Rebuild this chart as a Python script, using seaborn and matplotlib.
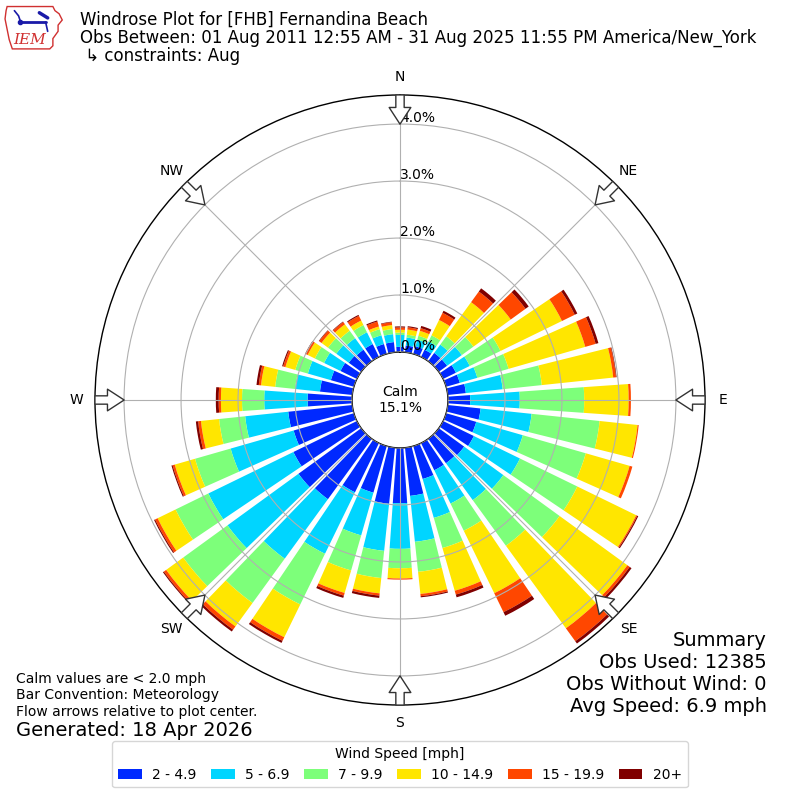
import numpy as np
import matplotlib
matplotlib.use("Agg")
import matplotlib.pyplot as plt
import seaborn as sns
from matplotlib.patches import Patch, Polygon

# ---------------- data (percent of observations) ----------------
directions = list(range(0, 360, 10))
speed_labels = ["2 - 4.9", "5 - 6.9", "7 - 9.9", "10 - 14.9", "15 - 19.9", "20+"]

spd_2_5 = [0.09, 0.12, 0.14, 0.14, 0.18, 0.18, 0.25, 0.25, 0.32, 0.39, 0.58, 0.55,
           0.60, 0.55, 0.53, 0.53, 0.60, 0.85, 0.97, 0.99, 0.85, 0.96, 1.31, 1.36,
           1.24, 1.10, 1.13, 0.78, 0.57, 0.42, 0.32, 0.27, 0.25, 0.25, 0.18, 0.18]
spd_5_7 = [0.21, 0.14, 0.12, 0.16, 0.18, 0.32, 0.27, 0.32, 0.65, 0.87, 0.90, 0.85,
           0.90, 0.85, 0.80, 0.65, 0.71, 0.81, 0.80, 0.83, 0.78, 1.20, 1.29, 1.54,
           1.66, 1.15, 0.76, 0.76, 0.44, 0.42, 0.32, 0.27, 0.25, 0.23, 0.16, 0.14]
spd_7_10 = [0.04, 0.05, 0.07, 0.12, 0.18, 0.25, 0.60, 0.57, 0.69, 1.13, 1.20, 1.15,
            1.12, 1.22, 0.99, 0.53, 0.55, 0.53, 0.34, 0.48, 0.64, 0.99, 0.96, 0.96,
            0.64, 0.65, 0.46, 0.39, 0.35, 0.23, 0.18, 0.18, 0.16, 0.14, 0.11, 0.09]
spd_10_15 = [0.05, 0.09, 0.09, 0.30, 0.74, 0.81, 1.20, 1.40, 1.26, 0.78, 0.67, 0.80,
             1.15, 1.47, 1.79, 1.22, 0.78, 0.39, 0.18, 0.27, 0.41, 0.64, 0.51, 0.37,
             0.35, 0.37, 0.32, 0.37, 0.25, 0.18, 0.14, 0.14, 0.14, 0.09, 0.05, 0.07]
spd_15_20 = [0.04, 0.04, 0.05, 0.14, 0.23, 0.32, 0.25, 0.19, 0.05, 0.04, 0.02, 0.05,
             0.02, 0.05, 0.28, 0.37, 0.07, 0.04, 0.02, 0.04, 0.05, 0.07, 0.07, 0.05,
             0.05, 0.04, 0.05, 0.04, 0.04, 0.04, 0.04, 0.05, 0.05, 0.09, 0.09, 0.05]
spd_20p = [0.02, 0.02, 0.04, 0.04, 0.07, 0.07, 0.05, 0.05, 0.01, 0.00, 0.00, 0.00,
           0.02, 0.04, 0.05, 0.07, 0.05, 0.02, 0.00, 0.04, 0.04, 0.04, 0.04, 0.02,
           0.02, 0.02, 0.04, 0.05, 0.04, 0.02, 0.01, 0.01, 0.01, 0.02, 0.02, 0.01]
series = [spd_2_5, spd_5_7, spd_7_10, spd_10_15, spd_15_20, spd_20p]

calm_pct = 15.1
ring_values = [0, 1, 2, 3, 4]
compass_labels = ["N", "NE", "E", "SE", "S", "SW", "W", "NW"]
compass_angles = [0, 45, 90, 135, 180, 225, 270, 315]

title_lines = ["Windrose Plot for [FHB] Fernandina Beach",
               "Obs Between: 01 Aug 2011 12:55 AM - 31 Aug 2025 11:55 PM America/New_York",
               " \u21b3 constraints: Aug"]
summary_lines = ["Summary", "Obs Used: 12385", "Obs Without Wind: 0", "Avg Speed: 6.9 mph"]
notes_lines = ["Calm values are < 2.0 mph", "Bar Convention: Meteorology",
               "Flow arrows relative to plot center."]
generated_text = "Generated: 18 Apr 2026"

# ---------------- style ----------------
sns.set_theme(style="white")
plt.rcParams["font.family"] = ["DejaVu Sans"]
plt.rcParams["text.color"] = "black"
plt.rcParams["legend.edgecolor"] = "#cccccc"
colors = sns.color_palette([plt.cm.jet(v) for v in np.linspace(0, 1, 7)[1:]])

fig = plt.figure(figsize=(8, 8), dpi=100)
ax = fig.add_axes([0.11875, 0.11875, 0.7625, 0.7625], projection="polar")
ax.set_theta_zero_location("N")
ax.set_theta_direction(-1)
rmax = 4.51
rorig = 0.842
ax.set_ylim(0, rmax)
ax.set_rorigin(-rorig)

theta = np.deg2rad(directions)
width = np.deg2rad(10) * 0.8
bottom = np.zeros(len(directions))
for vals, c in zip(series, colors):
    vals = np.asarray(vals)
    ax.bar(theta, vals, width=width, bottom=bottom, color=c, linewidth=0, zorder=1)
    bottom = bottom + vals

ax.set_axisbelow(False)
ax.set_yticks(ring_values)
ax.set_yticklabels([])
ax.set_xticks(np.deg2rad(compass_angles))
ax.set_xticklabels([])
ax.grid(True, color="#b0b0b0", linewidth=0.8)
for sp in ax.spines.values():
    sp.set_color("black")
    sp.set_linewidth(1.0)

for v in ring_values:
    ax.text(0, v - 0.01, f"{v:.1f}%", ha="left", va="bottom", fontsize=10, zorder=5,
            color="black")

for lab, ang in zip(compass_labels, compass_angles):
    th = np.deg2rad(ang)
    ax.text(th, 4.83, lab, ha="center", va="center", fontsize=10, clip_on=False,
            color="black")
    ax.annotate("", xy=(th, 3.95), xytext=(th, 4.56),
                arrowprops=dict(arrowstyle="simple,head_length=1.0,head_width=1.3,tail_width=0.5",
                                fc="white", ec="#333333", lw=1.0),
                annotation_clip=False, zorder=6)

fig.text(0.5, 0.5, f"Calm\n{calm_pct:.1f}%", ha="center", va="center", fontsize=10)

# titles
for i, line in enumerate(title_lines):
    fig.text(80 / 800, 1 - (20 + i * 18) / 800, line, ha="left", va="center", fontsize=12)

for i, line in enumerate(summary_lines):
    fig.text(767 / 800, 1 - (640 + i * 22) / 800, line, ha="right", va="center", fontsize=14)

for i, line in enumerate(notes_lines):
    fig.text(16 / 800, 1 - (679 + i * 16.5) / 800, line, ha="left", va="center", fontsize=10)
fig.text(16 / 800, 1 - 730 / 800, generated_text, ha="left", va="center", fontsize=14)

handles = [Patch(facecolor=c, edgecolor="none", label=l) for c, l in zip(colors, speed_labels)]
leg = fig.legend(handles=handles, loc="lower center", bbox_to_anchor=(0.5, 0.007), ncol=6,
                 title="Wind Speed [mph]", fontsize=10, title_fontsize=10, frameon=True,
                 handlelength=1.7, columnspacing=1.05, handletextpad=0.75)
for t in leg.get_texts():
    t.set_color("black")
leg.get_title().set_color("black")

# IEM logo (simplified)
lax = fig.add_axes([0.005, 0.935, 0.078, 0.062])
lax.set_xlim(0, 60)
lax.set_ylim(0, 48)
lax.axis("off")
iowa = [(3, 44), (47, 44), (49, 40), (53, 37), (56, 31), (52, 26), (52, 20), (47, 13),
        (47, 6), (44, 3), (8, 3), (5, 12), (3, 22), (1, 32), (2, 40)]
lax.add_patch(Polygon(iowa, closed=True, fill=False, edgecolor="#d03030", lw=1.0))
lax.plot([14, 40], [29, 29], color="#1a1aa8", lw=2)
lax.plot([10, 14, 16], [40, 35, 29], color="#1a1aa8", lw=1.2)
lax.plot([34, 42], [38, 33], color="#1a1aa8", lw=2.5)
lax.plot([40, 42], [29, 20], color="#1a1aa8", lw=1.2)
lax.plot([15], [29], "o", color="#1a1aa8", ms=3)
lax.text(25, 12, "IEM", color="#d03030", fontsize=11, style="italic", family="DejaVu Serif",
         ha="center", va="center")

fig.savefig("out.png", dpi=100)
